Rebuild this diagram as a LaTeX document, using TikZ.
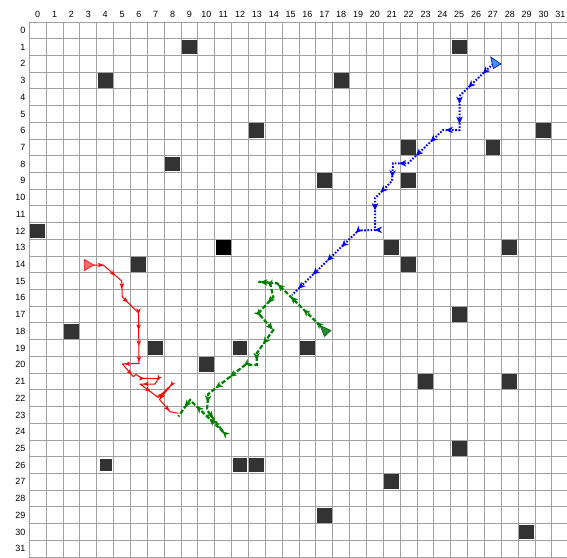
\documentclass[tikz,border=0pt]{standalone}
\usepackage{fontspec}
\setmainfont{Liberation Sans}
\usetikzlibrary{arrows.meta,decorations.markings}
\definecolor{gridc}{RGB}{160,160,160}
\definecolor{obst}{RGB}{51,51,51}
\definecolor{redp}{RGB}{255,0,0}
\definecolor{redfill}{RGB}{255,110,110}
\definecolor{greenp}{RGB}{0,128,0}
\definecolor{greenfill}{RGB}{40,140,60}
\definecolor{bluep}{RGB}{0,0,255}
\definecolor{bluefill}{RGB}{60,150,255}
\tikzset{
  gridline/.style={draw=gridc, line width=1pt},
  lbl/.style={font=\fontsize{9}{10}\selectfont, inner sep=0pt},
  obstacle/.style={fill=obst},
  redpath/.style={draw=redp, line width=1pt, line join=round,
    postaction={decorate},
    decoration={markings, mark=between positions 15pt and 1 step 16pt with {\arrow[redp,line width=0.5pt]{Stealth[length=5.5pt,width=4.5pt]}}}},
  greenpath/.style={draw=greenp, line width=2.2pt, dash pattern=on 4.5pt off 2pt,
    postaction={decorate},
    decoration={markings, mark=between positions 12pt and 1 step 18pt with {\arrow[greenp,solid,line width=0.5pt]{Stealth[length=7pt,width=6.5pt]}}}},
  bluepath/.style={draw=bluep, line width=2pt, dash pattern=on 1.6pt off 1.6pt,
    postaction={decorate},
    decoration={markings, mark=between positions 14pt and 1 step 20pt with {\arrow[bluep,solid,line width=0.5pt]{Stealth[length=7pt,width=6.5pt]}}}},
}
\begin{document}
\begin{tikzpicture}[x=1pt,y=-1pt]
\useasboundingbox (0,0) rectangle (567,557);
% grid
\foreach \c in {0,...,31}
  \draw[gridline] ({29.3+16.86*\c},22) -- ({29.3+16.86*\c},557);
\foreach \r in {0,...,32}
  \draw[gridline] (29.3,{22+16.72*\r}) -- (567,{22+16.72*\r});
% labels
\foreach \c in {0,...,31}
  \node[lbl] (col\c) at ({29.3+16.86*(\c+0.5)},14) {\c};
\foreach \r in {0,...,31}
  \node[lbl,anchor=east] (row\r) at (25.5,{22+16.72*(\r+0.5)}) {\r};
% obstacles
\foreach \c/\r in {9/1,25/1,4/3,18/3,13/6,30/6,22/7,27/7,8/8,17/9,22/9,0/12,
  21/13,28/13,6/14,22/14,25/17,2/18,7/19,12/19,16/19,10/20,23/21,28/21,
  25/25,12/26,13/26,21/27,17/29,29/30}
  \fill[obstacle] ({29.3+16.86*\c+1},{22+16.72*\r+1}) rectangle ++(14.86,14.72);
\fill[black] ({29.3+16.86*11+1},{22+16.72*13+1}) rectangle ++(14.86,14.72);
\fill[obstacle] ({29.3+16.86*4+3.5},{22+16.72*26+2.5}) rectangle ++(11.5,12);
% blue path
\draw[bluepath] (493,63.8) -- (459.5,96) -- (459.5,130) -- (443,130) -- (408,163.3)
  -- (393,163.3) -- (392,181) -- (375,198.3) -- (375,230) -- (358.3,230.5) -- (292,295);
% green path
\draw[greenpath] (325,330.5) -- (277,283.3) -- (258.3,281.7) -- (270,283) -- (273.3,297)
  -- (258.3,313.3) -- (273.3,330) -- (256.7,353.3) -- (256.7,365) -- (245,365)
  -- (208.3,394) -- (207,410) -- (223.3,432) -- (190,400) -- (178.3,416.5);
% red path
\draw[redpath] (88.3,265) -- (103.3,265) -- (121.7,281) -- (122.3,297) -- (138.5,313)
  -- (139,363.5) -- (122.5,364) -- (133.3,376.7) -- (136,374.3) -- (139.3,376.7)
  -- (141.7,378.3) -- (158.3,378.7) -- (155,384) -- (140,384) -- (158.3,397.5)
  -- (172,384) -- (159.5,399.5) -- (170,411.7) -- (178.3,413.3);
% start markers
\filldraw[fill=redfill, draw=redp, line width=0.6pt] (84.3,259.5) -- (93.8,265) -- (84.3,270.5) -- cycle;
\filldraw[fill=bluefill, draw=bluep!70!black, line width=0.6pt] (490.7,57) -- (501,64) -- (493.3,68.5) -- cycle;
\filldraw[fill=greenfill, draw=greenp!80!black, line width=0.6pt] (320,325.5) -- (331,330.5) -- (324.5,336.5) -- cycle;
\end{tikzpicture}
\end{document}
